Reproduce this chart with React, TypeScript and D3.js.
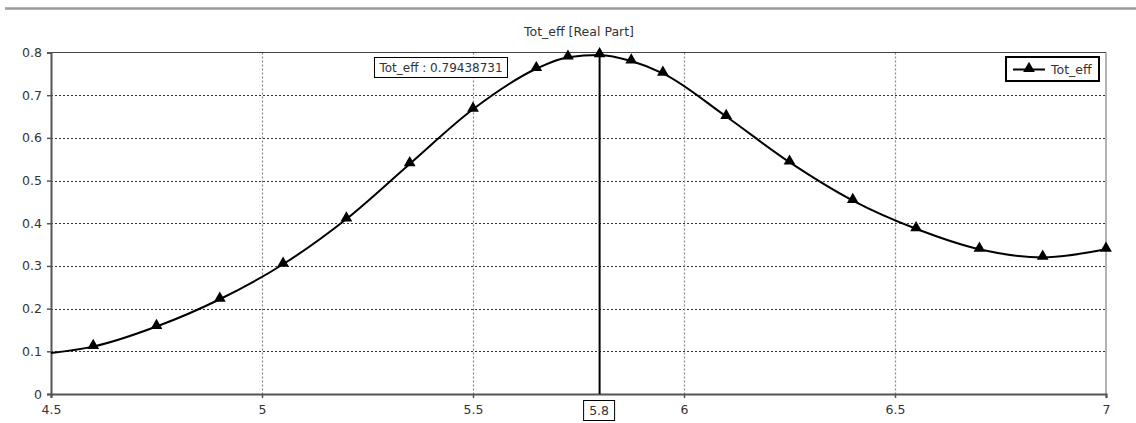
import * as d3 from 'd3';
import { useRef, useEffect } from 'react';

const freq = [4.5, 4.6, 4.75, 4.9, 5.05, 5.2, 5.35, 5.5, 5.65, 5.725, 5.8, 5.875, 5.95, 6.1, 6.25, 6.4, 6.55, 6.7, 6.85, 7.0];
const totEff = [0.096, 0.111, 0.158, 0.222, 0.304, 0.41, 0.539, 0.667, 0.762, 0.789, 0.79438731, 0.78, 0.751, 0.65, 0.543, 0.453, 0.387, 0.339, 0.32, 0.339];
const xTicks = [4.5, 5, 5.5, 6, 6.5, 7];
const yTicks = [0, 0.1, 0.2, 0.3, 0.4, 0.5, 0.6, 0.7, 0.8];
const cursorX = 5.8;
const cursorVal = '0.79438731';
const seriesName = 'Tot_eff';
const title = 'Tot_eff [Real Part]';

const W = 1136;
const H = 423;
const FONT = 'DejaVu Sans, Verdana, sans-serif';

const App = () => {
  const svgRef = useRef<SVGSVGElement>(null);

  useEffect(() => {
    const svg = d3.select(svgRef.current);
    svg.selectAll('*').remove();

    const left = 51, right = 1106, top = 52.5, bottom = 394;
    const x = d3.scaleLinear().domain([4.5, 7]).range([left, right]);
    const y = d3.scaleLinear().domain([0, 0.8]).range([bottom, top]);

    // header rule
    svg.append('line')
      .attr('x1', 5).attr('x2', W).attr('y1', 8.5).attr('y2', 8.5)
      .attr('stroke', '#9a9a9a').attr('stroke-width', 2.5);

    svg.append('text')
      .attr('x', 579).attr('y', 36)
      .attr('text-anchor', 'middle')
      .attr('font-family', FONT).attr('font-size', 12.5)
      .attr('fill', '#333')
      .text(title);

    // grid
    svg.append('g').selectAll('line')
      .data(yTicks.filter((d) => d > 0 && d < 0.8))
      .join('line')
      .attr('x1', left).attr('x2', right)
      .attr('y1', (d) => Math.round(y(d)) + 0.5).attr('y2', (d) => Math.round(y(d)) + 0.5)
      .attr('stroke', '#333').attr('stroke-width', 1).attr('stroke-dasharray', '2,2');
    svg.append('g').selectAll('line')
      .data(xTicks.filter((d) => d > 4.5 && d < 7))
      .join('line')
      .attr('x1', (d) => Math.round(x(d)) + 0.5).attr('x2', (d) => Math.round(x(d)) + 0.5)
      .attr('y1', top).attr('y2', bottom)
      .attr('stroke', '#888').attr('stroke-width', 1.2).attr('stroke-dasharray', '2,2');

    // frame
    svg.append('line').attr('x1', left).attr('x2', right).attr('y1', top).attr('y2', top)
      .attr('stroke', '#444').attr('stroke-width', 1.2);
    svg.append('line').attr('x1', right).attr('x2', right).attr('y1', top).attr('y2', bottom)
      .attr('stroke', '#666').attr('stroke-width', 1);

    // axes
    const yAxis = svg.append('g').attr('transform', `translate(${left},0)`)
      .call(d3.axisLeft(y).tickValues(yTicks).tickSize(4).tickPadding(5).tickFormat(d3.format('')));
    const xAxis = svg.append('g').attr('transform', `translate(0,${bottom})`)
      .call(d3.axisBottom(x).tickValues(xTicks).tickSize(4).tickPadding(7).tickFormat((d) => (d === cursorX ? '' : String(d))));
    [yAxis, xAxis].forEach((a) => {
      a.select('.domain').attr('stroke', '#555').attr('stroke-width', 2);
      a.selectAll('.tick line').attr('stroke', '#555').attr('stroke-width', 1.5);
      a.selectAll('text').attr('font-family', FONT).attr('font-size', 12.5).attr('fill', '#333');
    });

    // cursor
    svg.append('line')
      .attr('x1', x(cursorX)).attr('x2', x(cursorX)).attr('y1', top).attr('y2', bottom)
      .attr('stroke', '#000').attr('stroke-width', 2);
    svg.append('rect')
      .attr('x', x(cursorX) - 16).attr('y', 400.5).attr('width', 31).attr('height', 20)
      .attr('fill', '#fff').attr('stroke', '#000').attr('stroke-width', 1);
    svg.append('text')
      .attr('x', x(cursorX) - 0.5).attr('y', 415)
      .attr('text-anchor', 'middle')
      .attr('font-family', FONT).attr('font-size', 12.5).attr('fill', '#333')
      .text(String(cursorX));

    // series
    const pts = freq.map((f, i) => [f, totEff[i]] as [number, number]);
    const line = d3.line<[number, number]>()
      .curve(d3.curveMonotoneX)
      .x((d) => x(d[0]))
      .y((d) => y(d[1]));
    svg.append('path')
      .attr('d', line(pts))
      .attr('fill', 'none').attr('stroke', '#000').attr('stroke-width', 2);

    const tri = d3.symbol().type(d3.symbolTriangle).size(60);
    svg.append('g').selectAll('path')
      .data(pts.filter((d) => d[0] > 4.5))
      .join('path')
      .attr('d', tri)
      .attr('transform', (d) => `translate(${x(d[0])},${y(d[1]) - 1})`)
      .attr('fill', '#000');

    // value tooltip
    svg.append('rect')
      .attr('x', 374.5).attr('y', 57.5).attr('width', 133).attr('height', 20)
      .attr('fill', '#fff').attr('stroke', '#000').attr('stroke-width', 1);
    svg.append('text')
      .attr('x', 441).attr('y', 72)
      .attr('text-anchor', 'middle')
      .attr('font-family', FONT).attr('font-size', 12).attr('fill', '#333')
      .text(`${seriesName} : ${cursorVal}`);

    // legend
    const lg = svg.append('g').attr('transform', 'translate(1005,56)');
    lg.append('rect').attr('x', 1).attr('y', 1).attr('width', 93).attr('height', 24)
      .attr('fill', '#fff').attr('stroke', '#000').attr('stroke-width', 2);
    lg.append('line').attr('x1', 8).attr('x2', 40).attr('y1', 13.5).attr('y2', 13.5)
      .attr('stroke', '#000').attr('stroke-width', 2);
    lg.append('path').attr('d', tri).attr('transform', 'translate(24,12.5)').attr('fill', '#000');
    lg.append('text').attr('x', 46).attr('y', 18)
      .attr('font-family', FONT).attr('font-size', 12.5).attr('fill', '#333')
      .text(seriesName);
  }, []);

  return (
    <svg ref={svgRef} width={W} height={H}
      style={{ position: 'absolute', left: 0, top: 0, background: '#fff' }} />
  );
};

export default App;
